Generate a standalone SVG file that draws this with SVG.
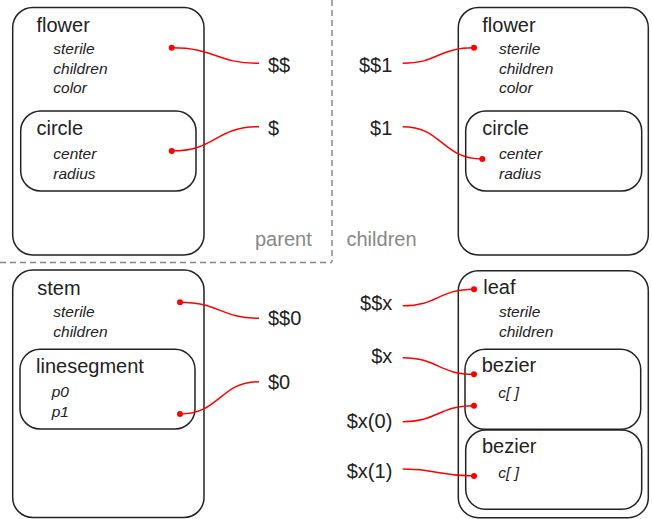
<svg xmlns="http://www.w3.org/2000/svg" width="652" height="519" viewBox="0 0 652 519">
<style>
.box{fill:none;stroke:#222;stroke-width:1.5}
.t{font-family:"Liberation Sans",Arial,sans-serif;font-size:20px;fill:#222}
.f{font-family:"Liberation Sans",Arial,sans-serif;font-size:15.5px;font-style:italic;fill:#222}
.g{font-family:"Liberation Sans",Arial,sans-serif;font-size:20px;fill:#888}
.c{fill:none;stroke:#f00;stroke-width:1.5}
.d{fill:#f00}
.dash{stroke:#888;stroke-width:1.5;stroke-dasharray:6,4;fill:none}
</style>
<rect width="652" height="519" fill="#fff"/>
<g id="dividers">
<line class="dash" x1="332" y1="0" x2="332" y2="262"/>
<line class="dash" x1="0" y1="262.5" x2="332" y2="262.5"/>
<text class="g" x="255" y="246">parent</text>
<text class="g" x="346.5" y="246">children</text>
</g>
<g id="flower-parent">
<rect class="box" x="12.7" y="7.5" width="191.3" height="247.5" rx="20"/>
<text class="t" x="36.5" y="31.5">flower</text>
<text class="f" x="53.3" y="54">sterile</text>
<text class="f" x="53.3" y="74">children</text>
<text class="f" x="53.3" y="93">color</text>
</g>
<g id="circle-parent">
<rect class="box" x="20.7" y="111" width="175.3" height="80" rx="20"/>
<text class="t" x="36.5" y="135">circle</text>
<text class="f" x="53.3" y="159">center</text>
<text class="f" x="53.3" y="179">radius</text>
</g>
<g id="flower-child">
<rect class="box" x="458.3" y="7.5" width="190" height="247.5" rx="20"/>
<text class="t" x="482.3" y="31.5">flower</text>
<text class="f" x="499" y="54">sterile</text>
<text class="f" x="499" y="74">children</text>
<text class="f" x="499" y="93">color</text>
</g>
<g id="circle-child">
<rect class="box" x="465.7" y="111" width="176" height="80" rx="20"/>
<text class="t" x="482.3" y="135">circle</text>
<text class="f" x="499" y="159">center</text>
<text class="f" x="499" y="179">radius</text>
</g>
<g id="stem">
<rect class="box" x="12.7" y="270" width="191.3" height="247.5" rx="20"/>
<text class="t" x="37.3" y="295">stem</text>
<text class="f" x="53.3" y="317">sterile</text>
<text class="f" x="53.3" y="337">children</text>
</g>
<g id="linesegment">
<rect class="box" x="20" y="349.3" width="175" height="79.7" rx="20"/>
<text class="t" x="36" y="373.3">linesegment</text>
<text class="f" x="51.7" y="397">p0</text>
<text class="f" x="51.7" y="417">p1</text>
</g>
<g id="leaf">
<rect class="box" x="458.3" y="270.7" width="190" height="247" rx="20"/>
<text class="t" x="483.3" y="294.3">leaf</text>
<text class="f" x="499" y="317">sterile</text>
<text class="f" x="499" y="337">children</text>
</g>
<g id="bezier1">
<rect class="box" x="465" y="349.3" width="175.7" height="80" rx="20"/>
<text class="t" x="481.7" y="372.3">bezier</text>
<text class="f" x="498.3" y="398">c[ ]</text>
</g>
<g id="bezier2">
<rect class="box" x="465.7" y="430" width="176" height="79.3" rx="20"/>
<text class="t" x="482" y="453.3">bezier</text>
<text class="f" x="498.3" y="478.3">c[ ]</text>
</g>
<g id="labels">
<text class="t" x="268" y="71.7">$$</text>
<text class="t" x="268" y="135">$</text>
<text class="t" x="392.3" y="71.7" text-anchor="end">$$1</text>
<text class="t" x="392.3" y="135" text-anchor="end">$1</text>
<text class="t" x="268" y="325">$$0</text>
<text class="t" x="268" y="389.3">$0</text>
<text class="t" x="392.3" y="310" text-anchor="end">$$x</text>
<text class="t" x="392.3" y="363.3" text-anchor="end">$x</text>
<text class="t" x="392.3" y="428.3" text-anchor="end">$x(0)</text>
<text class="t" x="392.3" y="478.3" text-anchor="end">$x(1)</text>
</g>
<g id="connectors">
<path class="c" d="M171.7,47.7 C216,47.7 215,63.3 259,63.3"/>
<circle class="d" cx="171.7" cy="47.7" r="3"/>
<path class="c" d="M171.7,151 C216,151 215,126.7 259,126.7"/>
<circle class="d" cx="171.7" cy="151" r="3"/>
<path class="c" d="M402.7,63.3 C438,63.3 438,47.7 474,47.7"/>
<circle class="d" cx="474" cy="47.7" r="3"/>
<path class="c" d="M402.7,126.7 C442,126.7 442,159 482.3,159"/>
<circle class="d" cx="482.3" cy="159" r="3"/>
<path class="c" d="M180,302.3 C220,302.3 220,318.3 259,318.3"/>
<circle class="d" cx="180" cy="302.3" r="3"/>
<path class="c" d="M180,414 C220,414 220,381.7 259,381.7"/>
<circle class="d" cx="180" cy="414" r="3"/>
<path class="c" d="M402.7,305.7 C438,305.7 438,289.3 474,289.3"/>
<circle class="d" cx="474" cy="289.3" r="3"/>
<path class="c" d="M402.7,357.7 C438,357.7 438,374.3 474,374.3"/>
<circle class="d" cx="474" cy="374.3" r="3"/>
<path class="c" d="M402.7,421.7 C438,421.7 438,405.7 474,405.7"/>
<circle class="d" cx="474" cy="405.7" r="3"/>
<path class="c" d="M402.7,469 C438,469 438,476 474,476"/>
<circle class="d" cx="474" cy="476" r="3"/>
</g>
</svg>
